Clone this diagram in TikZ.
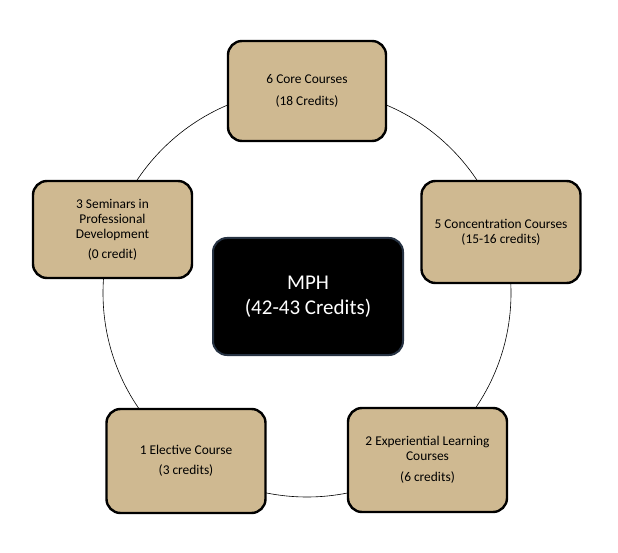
\documentclass[tikz,border=0pt]{standalone}
\usepackage{fontspec}
\setmainfont{Carlito}
\definecolor{tan}{RGB}{207,185,145}
\definecolor{navyedge}{RGB}{38,50,66}
\begin{document}
\begin{tikzpicture}[x=1pt,y=-1pt,
  box/.style={draw=black, line width=2.4pt, fill=tan, rounded corners=14pt,
    minimum width=#1, align=center, inner sep=0pt,
    font=\fontsize{13.4}{15}\selectfont},
  hub/.style={draw=navyedge, line width=2pt, fill=black, rounded corners=14pt,
    minimum width=190pt, minimum height=117pt, align=center, text=white,
    font=\fontsize{21}{25}\selectfont}]
\useasboundingbox (0,0) rectangle (618,553);
\coordinate (c) at (307,293);
\draw[line width=0.6pt] (c) circle[radius=204];
\node[box=158pt, minimum height=100pt] (core) at (307,91) {6 Core Courses\\[7pt](18 Credits)};
\node[box=159pt, minimum height=97pt] (sem) at (112.5,229.5) {3 Seminars in\\Professional\\Development\\[5pt](0 credit)};
\node[box=159pt, minimum height=102pt] (conc) at (501,232) {5 Concentration Courses\\(15-16 credits)};
\node[box=159pt, minimum height=104pt] (elec) at (186,461) {1 Elective Course\\[5pt](3 credits)};
\node[box=159pt, minimum height=104pt] (exp) at (427.5,460) {2 Experiential Learning\\Courses\\[6pt](6 credits)};
\node[hub] (mph) at (308,296.5) {MPH\\(42-43 Credits)};
\end{tikzpicture}
\end{document}
